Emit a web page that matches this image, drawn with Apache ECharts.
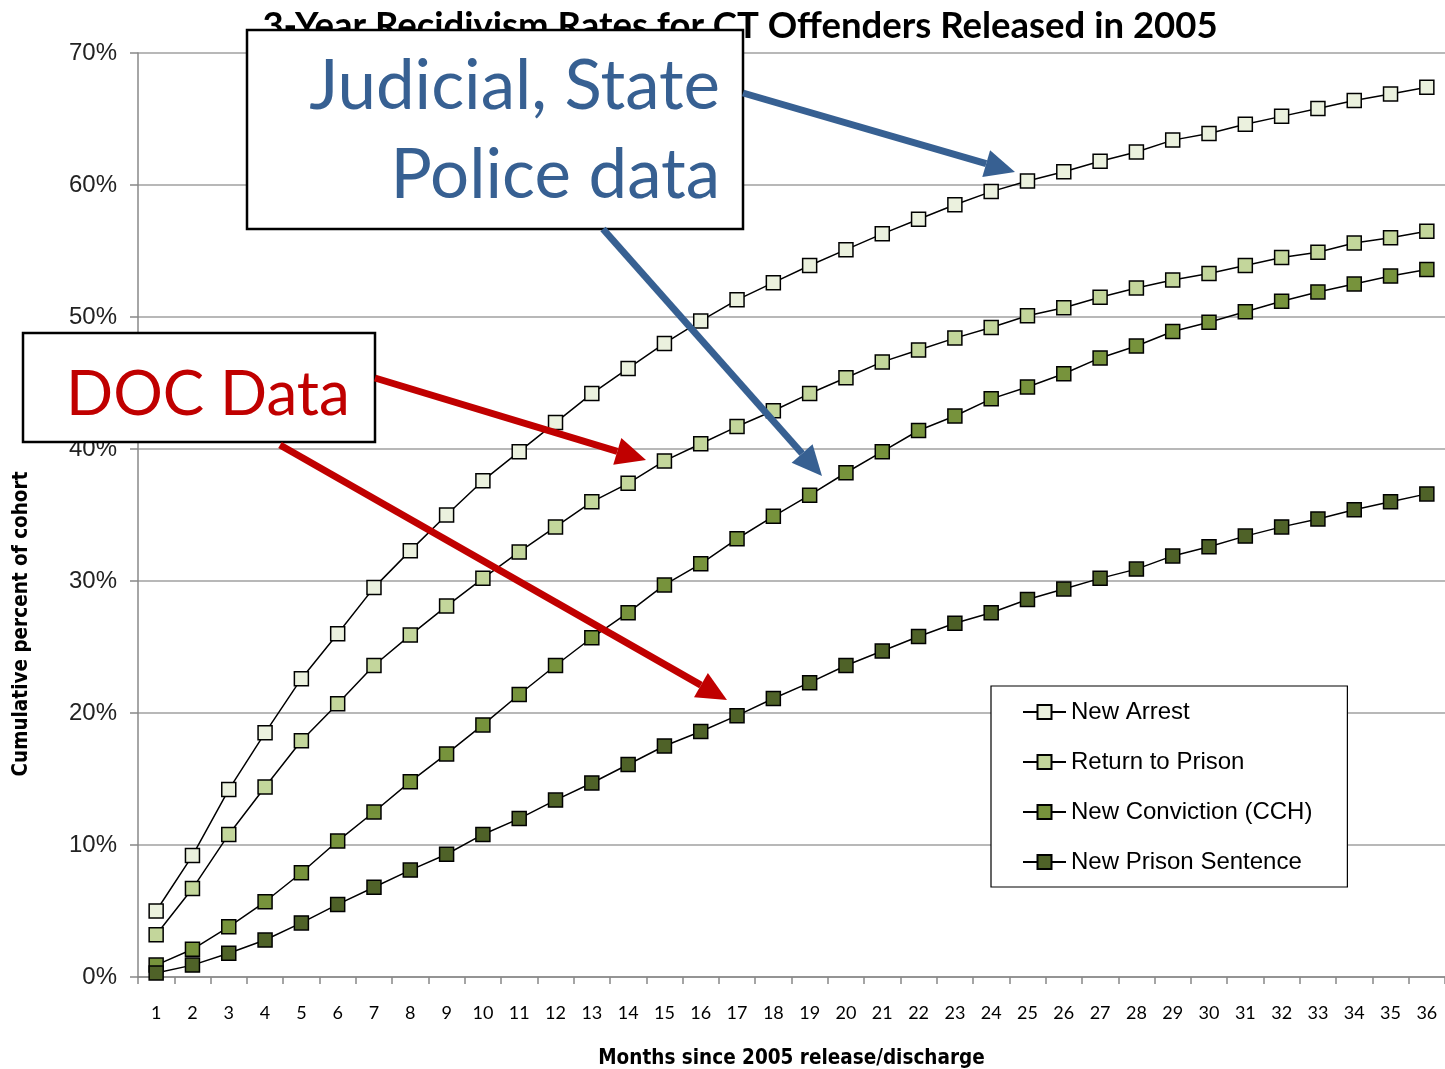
<!DOCTYPE html>
<html>
<head>
<meta charset="utf-8">
<title>3-Year Recidivism Rates for CT Offenders Released in 2005</title>
<script src="https://cdn.jsdelivr.net/npm/echarts@6/dist/echarts.min.js"></script>
<style>
  html, body { margin: 0; padding: 0; background: #fff; }
  #chart { width: 1445px; height: 1069px; }
</style>
</head>
<body>
<div id="chart"></div>
<script>
const months = ['1', '2', '3', '4', '5', '6', '7', '8', '9', '10', '11', '12',
  '13', '14', '15', '16', '17', '18', '19', '20', '21', '22', '23', '24',
  '25', '26', '27', '28', '29', '30', '31', '32', '33', '34', '35', '36'];

const newArrest = [5.0, 9.2, 14.2, 18.5, 22.6, 26.0, 29.5, 32.3, 35.0, 37.6, 39.8, 42.0,
  44.2, 46.1, 48.0, 49.7, 51.3, 52.6, 53.9, 55.1, 56.3, 57.4, 58.5, 59.5,
  60.3, 61.0, 61.8, 62.5, 63.4, 63.9, 64.6, 65.2, 65.8, 66.4, 66.9, 67.4];
const returnToPrison = [3.2, 6.7, 10.8, 14.4, 17.9, 20.7, 23.6, 25.9, 28.1, 30.2, 32.2, 34.1,
  36.0, 37.4, 39.1, 40.4, 41.7, 42.9, 44.2, 45.4, 46.6, 47.5, 48.4, 49.2,
  50.1, 50.7, 51.5, 52.2, 52.8, 53.3, 53.9, 54.5, 54.9, 55.6, 56.0, 56.5];
const newConviction = [0.9, 2.1, 3.8, 5.7, 7.9, 10.3, 12.5, 14.8, 16.9, 19.1, 21.4, 23.6,
  25.7, 27.6, 29.7, 31.3, 33.2, 34.9, 36.5, 38.2, 39.8, 41.4, 42.5, 43.8,
  44.7, 45.7, 46.9, 47.8, 48.9, 49.6, 50.4, 51.2, 51.9, 52.5, 53.1, 53.6];
const newPrisonSentence = [0.3, 0.9, 1.8, 2.8, 4.1, 5.5, 6.8, 8.1, 9.3, 10.8, 12.0, 13.4,
  14.7, 16.1, 17.5, 18.6, 19.8, 21.1, 22.3, 23.6, 24.7, 25.8, 26.8, 27.6,
  28.6, 29.4, 30.2, 30.9, 31.9, 32.6, 33.4, 34.1, 34.7, 35.4, 36.0, 36.6];

const seriesNames = ['New Arrest', 'Return to Prison', 'New Conviction (CCH)', 'New Prison Sentence'];
const seriesColors = ['#ebf1de', '#c3d69b', '#77933c', '#4f6228'];
const seriesData = [newArrest, returnToPrison, newConviction, newPrisonSentence];

const BLUE = '#376092';
const RED = '#c00000';

// arrow = shaft + triangular head, tip at (x2, y2)
function arrow(x1, y1, x2, y2, color) {
  const ang = Math.atan2(y2 - y1, x2 - x1);
  const headLen = 30, headW = 14;
  const bx = x2 - headLen * Math.cos(ang);
  const by = y2 - headLen * Math.sin(ang);
  const nx = -Math.sin(ang) * headW;
  const ny = Math.cos(ang) * headW;
  return [
    { type: 'line', z: 100, shape: { x1: x1, y1: y1, x2: bx, y2: by },
      style: { stroke: color, lineWidth: 7 } },
    { type: 'polygon', z: 100, shape: { points: [[x2, y2], [bx + nx, by + ny], [bx - nx, by - ny]] },
      style: { fill: color } }
  ];
}

const myChart = echarts.init(document.getElementById('chart'));

myChart.setOption({
  animation: false,
  backgroundColor: '#fff',
  grid: { left: 138, right: 0, top: 53, bottom: 92, outerBoundsMode: 'none' },
  legend: {
    orient: 'vertical',
    left: 991,
    top: 686,
    itemWidth: 43,
    itemHeight: 17.5,
    itemGap: 26,
    padding: [14, 35, 13, 31],
    backgroundColor: '#fff',
    borderColor: '#000',
    borderWidth: 1.2,
    borderRadius: 0,
    textStyle: { fontSize: 24, fontFamily: 'Liberation Sans, Arial, sans-serif', color: '#000' },
    data: seriesNames
  },
  xAxis: {
    type: 'category',
    data: months,
    boundaryGap: true,
    axisLine: { lineStyle: { color: '#888', width: 1.5 } },
    axisTick: { show: true, length: 7, lineStyle: { color: '#888', width: 1.5 } },
    axisLabel: { interval: 0, margin: 27, fontSize: 18, fontFamily: 'Lato, sans-serif', color: '#000' },
    name: 'Months since 2005 release/discharge',
    nameLocation: 'middle',
    nameGap: 71,
    nameTextStyle: {
      fontSize: 20.5, fontWeight: 'bold', color: '#000',
      fontFamily: 'Liberation Sans Narrow, DejaVu Sans Condensed, sans-serif'
    }
  },
  yAxis: {
    type: 'value',
    min: 0,
    max: 70,
    interval: 10,
    axisLine: { show: true, lineStyle: { color: '#888', width: 1.5 } },
    axisTick: { show: true, length: 8, lineStyle: { color: '#888', width: 1.5 } },
    axisLabel: {
      formatter: '{value}%', margin: 21, fontSize: 24, color: '#222',
      fontFamily: 'Liberation Sans, Arial, sans-serif'
    },
    splitLine: { show: true, lineStyle: { color: '#a0a0a0', width: 1.5 } }
  },
  series: seriesNames.map(function (name, i) {
    return {
      name: name,
      type: 'line',
      data: seriesData[i],
      symbol: 'rect',
      symbolSize: 14,
      showAllSymbol: true,
      lineStyle: { color: '#000', width: 1.5 },
      itemStyle: { color: seriesColors[i], borderColor: '#000', borderWidth: 1.5 },
      emphasis: { disabled: true }
    };
  }),
  graphic: [
    // chart title (partly hidden behind the callout box, as in the slide)
    { type: 'text', z: 50, x: 740, y: 26,
      style: { text: '3-Year Recidivism Rates for CT Offenders Released in 2005',
        fill: '#000', font: 'bold 36.5px Lato, sans-serif', textAlign: 'center', textVerticalAlign: 'middle' } },
    // y axis title
    { type: 'text', z: 50, x: 22, y: 624, rotation: Math.PI / 2,
      style: { text: 'Cumulative percent of cohort', fill: '#000',
        font: 'bold 20.5px "Liberation Sans Narrow", "DejaVu Sans Condensed", sans-serif',
        textAlign: 'center', textVerticalAlign: 'middle' } },
    // Judicial / State Police callout
    { type: 'rect', z: 90, shape: { x: 247, y: 30, width: 496, height: 199 },
      style: { fill: '#fff', stroke: '#000', lineWidth: 2.5 } },
    { type: 'text', z: 91, x: 720, y: 87,
      style: { text: 'Judicial, State', fill: BLUE, font: '69px Lato, sans-serif',
        textAlign: 'right', textVerticalAlign: 'middle' } },
    { type: 'text', z: 91, x: 720, y: 176,
      style: { text: 'Police data', fill: BLUE, font: '69px Lato, sans-serif',
        textAlign: 'right', textVerticalAlign: 'middle' } },
    // DOC callout
    { type: 'rect', z: 90, shape: { x: 23, y: 333, width: 352, height: 109 },
      style: { fill: '#fff', stroke: '#000', lineWidth: 2.5 } },
    { type: 'text', z: 91, x: 66, y: 395,
      style: { text: 'DOC Data', fill: RED, font: '62px Lato, sans-serif',
        textAlign: 'left', textVerticalAlign: 'middle' } }
  ].concat(
    arrow(743, 93, 1015, 172, BLUE),
    arrow(603, 229, 822, 476, BLUE),
    arrow(375, 378, 646, 460, RED),
    arrow(280, 445, 727, 700, RED)
  )
});
</script>
</body>
</html>
